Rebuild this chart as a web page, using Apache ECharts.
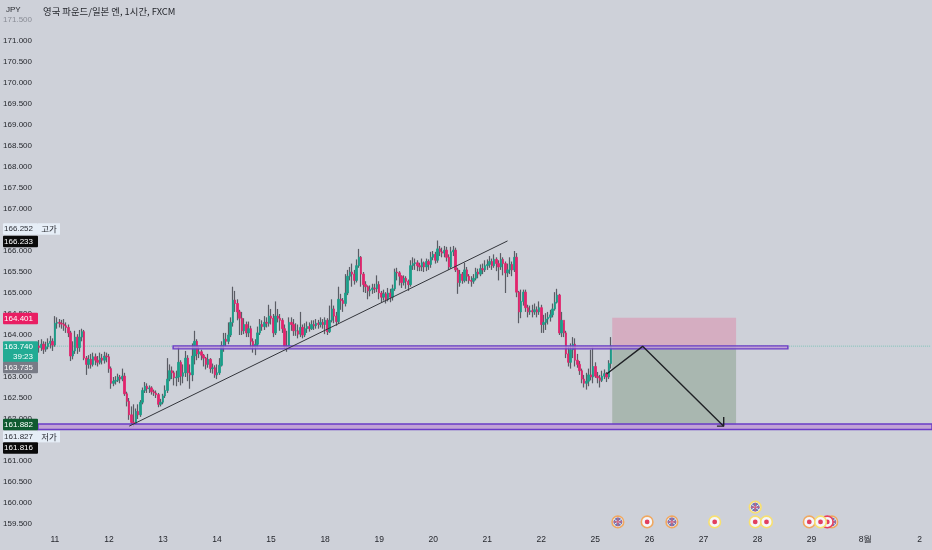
<!DOCTYPE html>
<html><head><meta charset="utf-8">
<style>html,body{margin:0;padding:0;background:#ced1d9}#c{width:932px;height:550px}</style>
<script src="https://cdn.jsdelivr.net/npm/echarts@6/dist/echarts.min.js"></script>
</head><body><div id="c"></div>
<script>
const opens=[163.74,163.70,163.78,163.66,163.72,163.80,163.85,
163.76,164.28,164.30,164.28,164.26,164.22,164.18,164.05,163.50,163.62,163.95,163.70,163.95,164.08,163.45,163.30,163.42,163.30,163.48,163.40,163.35,163.45,163.40,163.50,
163.48,163.20,162.85,162.90,162.92,163.00,162.95,163.02,162.60,162.42,162.10,161.92,161.88,162.18,162.10,162.40,162.68,162.78,162.72,162.74,162.65,162.62,162.58,162.35,
162.40,162.55,162.68,162.95,163.15,163.10,162.98,163.00,163.35,163.02,163.10,163.45,163.10,163.05,163.50,163.85,163.55,163.60,163.52,163.45,163.30,163.42,163.20,163.22,
163.05,163.10,163.28,163.75,163.90,163.85,164.00,164.30,164.83,164.75,164.55,164.40,164.10,164.25,164.05,164.15,163.85,163.72,163.78,164.05,164.25,164.20,164.30,164.28,
164.45,164.40,164.05,164.45,164.40,164.35,164.15,163.72,163.70,164.30,164.25,164.10,164.10,164.02,164.18,164.00,164.15,164.20,164.15,164.25,164.22,164.28,164.25,164.30,
164.25,164.35,164.08,164.35,164.62,164.45,164.32,164.85,164.82,164.75,165.00,165.40,165.50,165.45,165.30,165.65,165.85,165.45,165.20,165.15,165.05,165.08,165.12,165.10,
165.20,165.00,164.90,164.98,164.85,165.00,164.90,165.10,165.50,165.48,165.40,165.25,165.35,165.28,165.20,165.65,165.70,165.72,165.65,165.62,165.72,165.62,165.75,165.68,
165.85,165.92,165.78,166.05,165.98,165.95,166.02,165.85,165.62,165.98,166.02,165.55,165.25,165.45,165.30,165.55,165.40,165.30,165.28,165.35,165.50,165.45,165.58,165.55,
165.65,165.68,165.75,165.65,165.80,165.70,165.62,165.80,165.70,165.48,165.55,165.68,165.55,165.85,165.02,164.55,164.80,165.02,164.65,164.55,164.58,164.55,164.60,164.55,
164.65,164.25,164.30,164.38,164.42,164.48,164.62,164.78,164.95,164.05,164.35,164.05,163.55,163.35,163.65,163.78,163.40,163.30,163.15,162.95,162.85,162.90,163.05,163.00,
163.25,163.02,162.98,162.92,163.02,163.08,163.00,163.32];
const closes=[163.70,163.78,163.66,163.72,163.80,163.85,163.76,
164.28,164.30,164.28,164.26,164.22,164.18,164.05,163.50,163.62,163.95,163.70,163.95,164.08,163.45,163.30,163.42,163.30,163.48,163.40,163.35,163.45,163.40,163.50,163.48,
163.20,162.85,162.90,162.92,163.00,162.95,163.02,162.60,162.42,162.10,161.92,161.88,162.18,162.10,162.40,162.68,162.78,162.72,162.74,162.65,162.62,162.58,162.35,162.40,
162.55,162.68,162.95,163.15,163.10,162.98,163.00,163.35,163.02,163.10,163.45,163.10,163.05,163.50,163.85,163.55,163.60,163.52,163.45,163.30,163.42,163.20,163.22,163.05,
163.10,163.28,163.75,163.90,163.85,164.00,164.30,164.83,164.75,164.55,164.40,164.10,164.25,164.05,164.15,163.85,163.72,163.78,164.05,164.25,164.20,164.30,164.28,164.45,
164.40,164.05,164.45,164.40,164.35,164.15,163.72,163.70,164.30,164.25,164.10,164.10,164.02,164.18,164.00,164.15,164.20,164.15,164.25,164.22,164.28,164.25,164.30,164.25,
164.35,164.08,164.35,164.62,164.45,164.32,164.85,164.82,164.75,165.00,165.40,165.50,165.45,165.30,165.65,165.85,165.45,165.20,165.15,165.05,165.08,165.12,165.10,165.20,
165.00,164.90,164.98,164.85,165.00,164.90,165.10,165.50,165.48,165.40,165.25,165.35,165.28,165.20,165.65,165.70,165.72,165.65,165.62,165.72,165.62,165.75,165.68,165.85,
165.92,165.78,166.05,165.98,165.95,166.02,165.85,165.62,165.98,166.02,165.55,165.25,165.45,165.30,165.55,165.40,165.30,165.28,165.35,165.50,165.45,165.58,165.55,165.65,
165.68,165.75,165.65,165.80,165.70,165.62,165.80,165.70,165.48,165.55,165.68,165.55,165.85,165.02,164.55,164.80,165.02,164.65,164.55,164.58,164.55,164.60,164.55,164.65,
164.25,164.30,164.38,164.42,164.48,164.62,164.78,164.95,164.05,164.35,164.05,163.55,163.35,163.65,163.78,163.40,163.30,163.15,162.95,162.85,162.90,163.05,163.00,163.25,
163.02,162.98,162.92,163.02,163.08,163.00,163.32,163.735];
const highs=[163.88,163.90,163.85,163.84,163.92,163.98,163.92,
164.45,164.42,164.38,164.36,164.38,164.30,164.25,164.10,163.85,164.10,164.02,164.12,164.15,164.12,163.50,163.52,163.55,163.58,163.56,163.50,163.58,163.55,163.60,163.58,
163.55,163.25,163.00,163.02,163.08,163.05,163.20,163.10,162.65,162.50,162.30,162.35,162.25,162.35,162.45,162.75,162.88,162.85,162.80,162.78,162.70,162.68,162.62,162.48,
162.60,162.80,163.45,163.30,163.25,163.15,163.15,163.72,163.40,163.30,163.62,163.52,163.30,163.80,164.10,163.90,163.72,163.65,163.55,163.48,163.55,163.45,163.32,163.28,
163.30,163.45,163.85,164.05,164.05,164.30,164.42,165.15,165.05,164.85,164.60,164.55,164.40,164.32,164.32,164.22,163.92,163.90,164.20,164.38,164.35,164.45,164.42,164.72,
164.62,164.50,164.80,164.62,164.50,164.40,164.25,164.10,164.42,164.42,164.38,164.28,164.25,164.55,164.25,164.28,164.32,164.30,164.35,164.35,164.38,164.36,164.42,164.38,
164.42,164.40,164.70,164.85,164.70,164.55,165.15,164.98,164.88,165.45,165.55,165.62,165.70,165.55,165.80,166.05,165.88,165.50,165.28,165.18,165.18,165.22,165.22,165.42,
165.28,165.05,165.08,165.02,165.12,165.10,165.20,165.58,165.60,165.52,165.42,165.42,165.40,165.32,165.78,165.85,165.82,165.78,165.72,165.82,165.75,165.82,165.80,165.98,
166.00,165.98,166.25,166.12,166.08,166.12,166.10,165.92,166.10,166.12,166.08,165.60,165.55,165.50,165.72,165.62,165.45,165.40,165.45,165.60,165.58,165.68,165.70,165.78,
165.80,165.88,165.82,165.92,165.85,165.78,165.95,165.85,165.75,165.70,165.85,165.75,166.00,165.95,165.05,165.08,165.08,165.08,164.72,164.70,164.72,164.75,164.68,164.80,
164.72,164.48,164.52,164.55,164.60,164.75,165.02,165.10,164.98,164.55,164.28,164.10,163.72,163.80,163.95,163.92,163.55,163.38,163.20,163.05,163.10,163.20,163.65,163.70,
163.35,163.12,163.05,163.15,163.18,163.12,163.40,163.95];
const lows=[163.58,163.62,163.55,163.60,163.66,163.68,163.62,
163.72,164.15,164.18,164.15,164.10,164.05,163.95,163.38,163.42,163.55,163.55,163.60,163.85,163.40,163.05,163.20,163.20,163.25,163.28,163.25,163.30,163.30,163.32,163.35,
163.10,162.72,162.78,162.82,162.88,162.85,162.90,162.55,162.30,161.98,161.85,161.82,161.86,162.00,162.05,162.35,162.62,162.62,162.62,162.58,162.55,162.50,162.28,162.30,
162.35,162.50,162.62,162.90,162.95,162.80,162.78,162.88,162.80,162.85,163.00,162.90,162.72,162.90,163.30,163.40,163.45,163.40,163.25,163.18,163.22,163.10,163.08,162.98,
162.95,163.05,163.25,163.60,163.72,163.78,163.95,164.20,164.55,164.35,164.00,164.00,164.02,163.95,163.95,163.70,163.58,163.52,163.70,164.00,164.10,164.12,164.18,164.20,
164.25,163.95,164.00,164.30,164.10,164.05,163.68,163.60,163.68,164.10,163.98,163.98,163.92,163.95,163.92,163.95,164.05,164.08,164.12,164.12,164.15,164.15,164.18,164.15,
164.02,164.00,164.05,164.30,164.28,164.22,164.28,164.60,164.55,164.68,164.95,165.30,165.15,165.20,165.25,165.60,165.15,165.02,165.00,164.85,164.92,164.98,165.00,165.02,
164.85,164.78,164.82,164.75,164.80,164.78,164.82,165.05,165.30,165.18,165.12,165.18,165.10,165.05,165.15,165.55,165.55,165.52,165.52,165.52,165.50,165.52,165.55,165.60,
165.78,165.70,165.72,165.88,165.85,165.85,165.75,165.55,165.58,165.88,165.50,164.98,165.15,165.22,165.25,165.28,165.22,165.15,165.22,165.30,165.35,165.40,165.45,165.50,
165.55,165.60,165.55,165.60,165.52,165.30,165.55,165.42,165.00,165.38,165.45,165.40,165.50,164.90,164.28,164.40,164.70,164.55,164.42,164.48,164.42,164.48,164.42,164.48,
164.05,164.05,164.12,164.25,164.32,164.42,164.58,164.75,164.00,163.95,163.95,163.45,163.25,163.20,163.45,163.25,163.22,163.05,162.85,162.75,162.70,162.78,162.92,162.85,
162.98,162.85,162.75,162.88,162.95,162.88,162.95,163.20];

const slotCount=397;
const dayLabels=['11','12','13','14','15','18','19','20','21','22','25','26','27','28','29','8월','2'];
const dayIndex=[7,31,55,79,103,127,151,175,199,223,247,271,295,319,343,367,391];

const trendIdx=[40,208], trendPrice=[161.83,166.24];
const arrowIdx=[252,268,304], arrowPrice=[163.07,163.73,161.83];
const arrowHeadIdx=[301,304,304], arrowHeadPrice=[161.83,161.83,162.05];
const lastPrice=163.735;

const bandStart=[60,0], bandEnd=[332,396], bandTop=[163.74,161.88], bandBottom=[163.67,161.75];
const zoneStart=[255,255], zoneEnd=[309,309], zoneTop=[164.41,163.74], zoneBottom=[163.74,161.86];
const zoneFill=['#d5adc1','#a9b7b0'];

const eventIdx=[352,350,257,270,281,300,318,318,323,342,347];
const eventLevel=[159.55,159.55,159.55,159.55,159.55,159.55,159.90,159.55,159.55,159.55,159.55];
const eventKind=['uk','jp','uk','jp','uk','jp','uk','jp','jp','jp','jp'];
const eventRing=['#f0a860','#e8405f','#f0a860','#f0a860','#f0a860','#f8e070','#f8e070','#f8e070','#f8e070','#f0a860','#f8e070'];

const tagText=['166.252','166.233','164.401','163.740','163.735','161.882','161.827','161.816'];
const tagSub=['','','','39:23','','','',''];
const tagLevel=[166.524,166.226,164.39,163.60,163.226,161.87,161.58,161.31];
const tagFill=['#e6eef7','#0a0a0a','#e91e63','#22ab94','#787b86','#0f5a30','#e6eef7','#0a0a0a'];
const tagInk=['#2c2e35','#ffffff','#ffffff','#ffffff','#ffffff','#ffffff','#2c2e35','#ffffff'];
const tagSide=['고가','','','','','','저가',''];

const NUM='"Liberation Sans",sans-serif';
const KR='"Noto Sans CJK KR",sans-serif';
const INK='#26282e';

const categories=Array.from({length:slotCount},(_,i)=>{const k=dayIndex.indexOf(i);return k<0?'':dayLabels[k];});
const ohlc=closes.map((c,i)=>[opens[i],c,lows[i],highs[i]]);
const bodies=closes.map((c,i)=>[opens[i],c,Math.min(opens[i],c),Math.max(opens[i],c)]);
const chart=echarts.init(document.getElementById('c'));

function rectSeries(name,n,fn,z){
  return {type:'custom',name,z,silent:true,clip:false,data:Array.from({length:n},(_,i)=>[i]),encode:{x:0},renderItem:fn};
}
function pathLine(name,xs,ys,w,color,z,type){
  return {type:'line',name,z,silent:true,symbol:'none',animation:false,clip:false,
    data:xs.map((x,i)=>[x,ys[i]]),lineStyle:{width:w,color,type:type||'solid'}};
}

chart.setOption({
  animation:false,
  backgroundColor:'#ced1d9',
  title:[
    {text:'JPY',left:6,top:6,padding:0,textStyle:{fontFamily:NUM,fontSize:8,fontWeight:'normal',color:INK}},
    {text:'영국 파운드/일본 엔, 1시간, FXCM',left:43,top:7,padding:0,textStyle:{fontFamily:KR,fontSize:9.4,fontWeight:'normal',color:INK}}
  ],
  grid:{left:38,right:0,top:20,bottom:26,containLabel:false,outerBoundsMode:'none'},
  xAxis:{type:'category',data:categories,boundaryGap:true,
    axisLine:{show:false},axisTick:{show:false},splitLine:{show:false},
    axisLabel:{interval:(i,v)=>v!=='',margin:11,fontFamily:NUM,fontSize:8.5,color:INK,hideOverlap:false}},
  yAxis:{type:'value',min:159.5,max:171.5,interval:0.5,scale:true,
    axisLine:{show:false},axisTick:{show:false},splitLine:{show:false},
    axisLabel:{margin:6,fontFamily:NUM,fontSize:8,color:INK,
      formatter:v=>v===171.5?'{f|171.500}':v.toFixed(3),
      rich:{f:{color:'#8a8d96',fontFamily:NUM,fontSize:8}}}},
  series:[
    rectSeries('zones',zoneStart.length,(p,api)=>{
      const i=api.value(0),h=api.size([1,0])[0]/2;
      const a=api.coord([zoneStart[i],zoneTop[i]]),b=api.coord([zoneEnd[i],zoneBottom[i]]);
      return {type:'rect',shape:{x:a[0]-h,y:a[1],width:b[0]-a[0]+2*h,height:b[1]-a[1]},style:{fill:zoneFill[i]}};
    },1),
    pathLine('last price',[0,396],[lastPrice,lastPrice],1,'#7fc4b8',2,'dotted'),
    {type:'candlestick',name:'wicks',z:3,silent:true,data:ohlc,barWidth:1,
      itemStyle:{color:'#5a5c64',color0:'#5a5c64',borderColor:'#5a5c64',borderColor0:'#5a5c64',borderWidth:1.2}},
    {type:'candlestick',name:'bodies',z:4,silent:true,data:bodies,barWidth:2,
      itemStyle:{color:'#1a9e89',color0:'#e2246d',borderColor:'#1a9e89',borderColor0:'#e2246d',borderWidth:0.8}},
    rectSeries('bands',bandStart.length,(p,api)=>{
      const i=api.value(0),h=api.size([1,0])[0]/2;
      const a=api.coord([bandStart[i],bandTop[i]]),b=api.coord([bandEnd[i],bandBottom[i]]);
      return {type:'rect',shape:{x:a[0]-h,y:a[1],width:b[0]-a[0]+2*h,height:b[1]-a[1]},
        style:{fill:'rgba(190,155,212,0.85)',stroke:'#6a3cc6',lineWidth:1.4}};
    },5),
    pathLine('trend',trendIdx,trendPrice,1,'#33353b',6),
    pathLine('arrow',arrowIdx,arrowPrice,1.4,'#1f2125',6),
    pathLine('arrow head',arrowHeadIdx,arrowHeadPrice,1.4,'#1f2125',6),
    rectSeries('events',eventIdx.length,(p,api)=>{
      const i=api.value(0),c=api.coord([eventIdx[i],eventLevel[i]]),x=c[0],y=c[1];
      const kids=[{type:'circle',shape:{cx:x,cy:y,r:5.8},style:{fill:'#f5f6fa',stroke:eventRing[i],lineWidth:1.6}}];
      if(eventKind[i]==='jp'){
        kids.push({type:'circle',shape:{cx:x,cy:y,r:2.4},style:{fill:'#e2405f'}});
      }else{
        kids.push({type:'circle',shape:{cx:x,cy:y,r:4.4},style:{fill:'#6a78b4'}});
        kids.push({type:'line',shape:{x1:x-3.6,y1:y-2.6,x2:x+3.6,y2:y+2.6},style:{stroke:'#f2f2f6',lineWidth:1}});
        kids.push({type:'line',shape:{x1:x-3.6,y1:y+2.6,x2:x+3.6,y2:y-2.6},style:{stroke:'#f2f2f6',lineWidth:1}});
        kids.push({type:'line',shape:{x1:x-4.4,y1:y,x2:x+4.4,y2:y},style:{stroke:'#d8607a',lineWidth:1.1}});
        kids.push({type:'line',shape:{x1:x,y1:y-4.4,x2:x,y2:y+4.4},style:{stroke:'#d8607a',lineWidth:1.1}});
      }
      return {type:'group',children:kids};
    },7),
    rectSeries('tags',tagText.length,(p,api)=>{
      const i=api.value(0),y=api.coord([0,tagLevel[i]])[1],two=!!tagSub[i],h=two?21:11.5;
      const kids=[{type:'rect',shape:{x:3,y:y-h/2,width:35,height:h,r:1},style:{fill:tagFill[i]}}];
      kids.push({type:'text',style:{x:33,y:two?y-5.2:y,text:tagText[i],align:'right',verticalAlign:'middle',fill:tagInk[i],font:'8px '+NUM}});
      if(two)kids.push({type:'text',style:{x:33,y:y+5,text:tagSub[i],align:'right',verticalAlign:'middle',fill:tagInk[i],font:'8px '+NUM}});
      if(tagSide[i]){
        kids.push({type:'rect',shape:{x:38,y:y-h/2,width:22,height:h},style:{fill:tagFill[i]}});
        kids.push({type:'text',style:{x:49,y:y,text:tagSide[i],align:'center',verticalAlign:'middle',fill:tagInk[i],font:'8.5px '+KR}});
      }
      return {type:'group',children:kids};
    },10)
  ]
});
</script></body></html>
